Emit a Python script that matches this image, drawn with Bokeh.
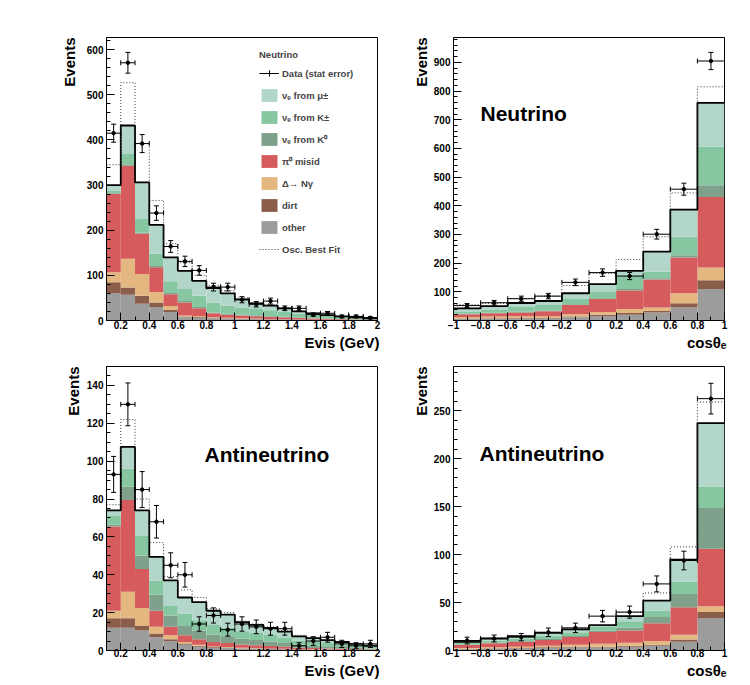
import numpy as np
from bokeh.plotting import figure
from bokeh.models import (ColumnDataSource, FixedTicker, Label, Legend, LegendItem,
                          Whisker, TeeHead, Range1d, Title)
from bokeh.layouts import column, row
from bokeh.embed import file_html
from bokeh.resources import INLINE

FONT = "Liberation Sans"

# ---------------- bins & ticks ----------------
EVIS_EDGES = [0.1, 0.2, 0.3, 0.4, 0.5, 0.6, 0.7, 0.8, 0.9, 1.0, 1.1, 1.2, 1.3, 1.4,
              1.5, 1.6, 1.7, 1.8, 1.9, 2.0]
COS_EDGES = [-1.0, -0.8, -0.6, -0.4, -0.2, 0.0, 0.2, 0.4, 0.6, 0.8, 1.0]

EVIS_TICKS = [0.2, 0.4, 0.6, 0.8, 1.0, 1.2, 1.4, 1.6, 1.8, 2.0]
EVIS_TICK_LABELS = ["0.2", "0.4", "0.6", "0.8", "1", "1.2", "1.4", "1.6", "1.8", "2"]
COS_TICKS = [-1.0, -0.8, -0.6, -0.4, -0.2, 0.0, 0.2, 0.4, 0.6, 0.8, 1.0]
COS_TICK_LABELS = ["\u22121", "\u22120.8", "\u22120.6", "\u22120.4", "\u22120.2", "0",
                   "0.2", "0.4", "0.6", "0.8", "1"]

NU_EVIS_YTICKS = [0, 100, 200, 300, 400, 500, 600]
NU_COS_YTICKS = [100, 200, 300, 400, 500, 600, 700, 800, 900]
NB_EVIS_YTICKS = [0, 20, 40, 60, 80, 100, 120, 140]
NB_COS_YTICKS = [0, 50, 100, 150, 200, 250]

# component order: bottom -> top
COMP_LABELS = ["other", "dirt", "\u0394\u2192 N\u03b3", "\u03c0\u2070 misid",
               "\u03bd\u2091 from K\u2070", "\u03bd\u2091 from K\u00b1", "\u03bd\u2091 from \u03bc\u00b1"]
COMP_COLORS = ["#9c9c9c", "#8b5e4b", "#e3b77f", "#d65b5d", "#7fa08a", "#86c7a2", "#b3d6ca"]

# ---------------- Neutrino, Evis ----------------
nu_evis_other = [60, 57, 37, 30, 19, 7, 6, 5, 4, 3, 3, 2, 2, 1.5, 1.2, 1, 0.8, 0.6, 0.5]
nu_evis_dirt = [25, 16, 18, 10, 5, 2, 2, 1, 1, 1, 1, 0.5, 0.5, 0.5, 0.3, 0.3, 0.2, 0.2, 0.1]
nu_evis_delta = [22, 64, 48, 23, 8, 2, 2, 1, 1, 1, 0.5, 0.5, 0.5, 0.3, 0.2, 0.2, 0.1, 0.1, 0.1]
nu_evis_pi0 = [173, 206, 89, 55, 26, 29, 17, 9, 7, 6, 5, 4.5, 4, 3, 2.5, 2, 1.5, 1.2, 1]
nu_evis_k0 = [2, 3, 3, 3, 3, 3, 3, 2, 2, 2, 2, 2, 1.5, 1.2, 1, 0.8, 0.6, 0.5, 0.4]
nu_evis_kpm = [5, 23, 30, 27, 26, 27, 25, 22, 18, 16, 14, 13, 11, 9, 7.5, 6, 4.5, 3.5, 2.5]
nu_evis_mu = [13, 63, 81, 64, 53, 40, 33, 32, 27, 18, 12.5, 10.5, 7.5, 4.5, 3.3, 1.7, 1.3, 0.9, 0.4]
nu_evis_data = [415, 571, 392, 238, 164, 131, 111, 74, 74, 46, 36, 43, 27, 27, 13, 16, 9, 9, 6]
nu_evis_err = [20, 23, 20, 16, 13, 11.5, 10.5, 8.6, 8.6, 6.8, 6, 6.6, 5.2, 5.2, 3.6, 4, 3, 3, 2.4]
nu_evis_fit = [345, 527, 392, 266, 170, 128, 100, 78, 66, 50, 40, 35, 28, 21, 17, 12.5, 9.5, 7.3, 5.2]

# ---------------- Neutrino, cos theta ----------------
nu_cos_other = [5, 6, 7, 7, 11, 16, 20, 28, 45, 110]
nu_cos_dirt = [2, 2, 2, 2, 3, 4, 6, 5, 15, 30]
nu_cos_delta = [5, 6, 6, 6, 8, 10, 14, 12, 35, 45]
nu_cos_pi0 = [10, 11, 13, 17, 32, 45, 65, 98, 125, 246]
nu_cos_k0 = [2, 2, 3, 3, 3, 3, 5, 4, 8, 41]
nu_cos_kpm = [6, 10, 16, 19, 18, 24, 45, 23, 64, 134]
nu_cos_mu = [12, 13, 14, 14, 20, 25, 18, 70, 95, 153]
nu_cos_data = [52, 62, 76, 85, 133, 167, 155, 301, 458, 905]
nu_cos_err = [7, 8, 9, 9.5, 11.5, 13, 12.5, 17, 21, 30]
nu_cos_fit = [55, 60, 77, 85, 122, 165, 213, 292, 445, 815]

# ---------------- Antineutrino, Evis ----------------
nb_evis_other = [12, 12, 10.5, 7, 5, 3, 2, 1.5, 1.3, 1, 1, 0.8, 0.7, 0.5, 0.4, 0.4, 0.3, 0.2, 0.2]
nb_evis_dirt = [5, 5, 2.5, 2, 1, 0.7, 0.5, 0.3, 0.3, 0.2, 0.2, 0.2, 0.1, 0.1, 0.1, 0.1, 0.1, 0, 0]
nb_evis_delta = [4, 14, 9.5, 3.5, 2, 0.8, 0.5, 0.3, 0.2, 0.2, 0.1, 0.1, 0.1, 0.1, 0.1, 0, 0, 0, 0]
nb_evis_pi0 = [44.5, 48.5, 20.5, 8.5, 4.5, 3.5, 3, 2.4, 2.2, 1.8, 1.5, 1.3, 1.1, 0.8, 0.7, 0.6, 0.5, 0.4, 0.3]
nb_evis_k0 = [1, 7, 7, 8.5, 6, 5, 4.5, 4, 3.5, 3, 2.7, 2.4, 2, 1.5, 1.3, 1.1, 0.9, 0.7, 0.5]
nb_evis_kpm = [4.5, 9.5, 10.5, 7.5, 5, 6.5, 5.5, 5, 4.5, 4, 3.7, 3.4, 3, 2.3, 2, 1.7, 1.4, 1.1, 0.8]
nb_evis_mu = [3, 11.5, 13.5, 12.5, 13.5, 8.5, 9.5, 7.5, 7, 4.8, 4.3, 3.8, 3, 2.2, 1.9, 1.6, 1.3, 1.1, 0.7]
nb_evis_data = [93, 130, 85, 68, 45, 40, 14, 18.5, 11, 14, 12.5, 11.5, 11.5, 2.5, 5, 7, 3.5, 2.5, 3.5]
nb_evis_err = [9.5, 11.3, 9.5, 8.6, 6.6, 6.5, 3.8, 4, 3.4, 3.8, 3.6, 3.4, 3.4, 1.6, 2.3, 2.6, 1.9, 1.6, 1.9]
nb_evis_fit = [77, 122, 80, 57, 39, 32, 28, 22, 20, 15.5, 14, 12.5, 10.5, 8, 6.8, 5.7, 4.6, 3.6, 2.6]

# ---------------- Antineutrino, cos theta ----------------
nb_cos_other = [1.4, 1.8, 2, 2.5, 3, 3, 4, 5, 9, 34]
nb_cos_dirt = [0.5, 0.6, 0.7, 0.8, 1, 1, 1, 1, 2.5, 6]
nb_cos_delta = [0.8, 1.1, 1.3, 1.7, 2, 3, 3, 4, 5, 6]
nb_cos_pi0 = [3, 4, 5, 6, 8, 12.4, 12.8, 18.4, 28.5, 60]
nb_cos_k0 = [0.5, 0.7, 0.8, 1, 1, 1.5, 2.8, 6.4, 14, 42.6]
nb_cos_kpm = [1.6, 2.3, 2.8, 3.5, 4, 3.5, 7, 6.5, 13, 22.4]
nb_cos_mu = [1.2, 2, 2.4, 2.9, 3, 2, 5.2, 10.7, 22.8, 66]
nb_cos_data = [10.4, 12.5, 13.9, 19, 23.6, 35.8, 40, 69.4, 93.8, 262.5]
nb_cos_err = [3.5, 3.6, 3.8, 4.4, 4.9, 6, 6.3, 8.3, 9.7, 16]
nb_cos_fit = [9.5, 13, 15.5, 19, 23, 26, 40, 60, 108, 259]


def style_axis(ax, standoff):
    ax.major_tick_in = 8
    ax.major_tick_out = 0
    ax.minor_tick_in = 4
    ax.minor_tick_out = 0
    ax.major_tick_line_color = "black"
    ax.minor_tick_line_color = "black"
    ax.axis_line_color = "black"
    ax.major_label_text_font = FONT
    ax.major_label_text_font_style = "bold"
    ax.major_label_text_font_size = "10px"
    ax.major_label_text_color = "black"
    ax.major_label_standoff = standoff


def make_panel(edges, comps, data, err, fit, xr, yr, xticks, xlabels, xminor,
               yticks, yminor, width, height, borders, xtitle, ytitle_standoff,
               xlabel_standoff=0, tag=None, tag_pos=None, legend=False):
    bl, br, bt, bb = borders
    p = figure(width=width, height=height, x_range=Range1d(*xr), y_range=Range1d(*yr),
               output_backend="svg", toolbar_location=None,
               min_border_left=bl, min_border_right=br, min_border_top=bt, min_border_bottom=bb)
    p.xgrid.visible = False
    p.ygrid.visible = False
    p.outline_line_color = "black"
    p.outline_line_width = 1
    p.background_fill_color = "white"
    p.border_fill_color = "white"

    style_axis(p.xaxis[0], xlabel_standoff)
    style_axis(p.yaxis[0], 3)
    p.xaxis.ticker = FixedTicker(ticks=xticks, minor_ticks=xminor)
    p.xaxis.major_label_overrides = {t: lab for t, lab in zip(xticks, xlabels)}
    p.yaxis.ticker = FixedTicker(ticks=yticks, minor_ticks=yminor)

    e = np.array(edges, dtype=float)
    left, right = e[:-1], e[1:]
    cum = np.zeros(len(left))
    quads = []
    for vals, color in zip(comps, COMP_COLORS):
        top = cum + np.array(vals, dtype=float)
        src = ColumnDataSource(dict(left=left, right=right, bottom=cum.copy(), top=top))
        quads.append(p.quad(left="left", right="right", bottom="bottom", top="top",
                            source=src, fill_color=color, line_color=None))
        cum = top

    p.step(x=e, y=np.append(cum, cum[-1]), mode="after", line_color="black", line_width=1.8)
    fitv = np.array(fit, dtype=float)
    p.step(x=e, y=np.append(fitv, fitv[-1]), mode="after", line_color="#333333",
           line_width=1, line_dash="1 2")

    xc = (left + right) / 2
    d = np.array(data, dtype=float)
    er = np.array(err, dtype=float)
    dsrc = ColumnDataSource(dict(x=xc, y=d, lo=d - er, hi=d + er, xl=left, xr=right))
    p.add_layout(Whisker(base="x", lower="lo", upper="hi", dimension="height", source=dsrc,
                         line_color="black", line_width=1, level="overlay",
                         upper_head=TeeHead(size=5, line_color="black", line_width=1),
                         lower_head=TeeHead(size=5, line_color="black", line_width=1)))
    p.add_layout(Whisker(base="y", lower="xl", upper="xr", dimension="width", source=dsrc,
                         line_color="black", line_width=1, level="overlay",
                         upper_head=TeeHead(size=5, line_color="black", line_width=1),
                         lower_head=TeeHead(size=5, line_color="black", line_width=1)))
    p.scatter("x", "y", source=dsrc, size=3.5, color="black", level="overlay")

    # axis titles (ROOT style: aligned to the far end of each axis)
    p.add_layout(Title(text="Events", align="right", text_font=FONT, text_font_style="bold",
                       text_font_size="15px", text_color="black", standoff=ytitle_standoff,
                       offset=0), "left")
    p.add_layout(Title(text=xtitle, align="right", text_font=FONT, text_font_style="bold",
                       text_font_size="15px", text_color="black", standoff=0,
                       offset=-2), "below")
    if tag:
        p.add_layout(Label(x=tag_pos[0], y=tag_pos[1], x_units="screen", y_units="screen",
                           text=tag, text_align="left", text_baseline="middle",
                           text_font=FONT, text_font_style="bold", text_font_size="21px",
                           text_color="black"))
    if legend:
        r_line = p.line(x=[np.nan], y=[np.nan], line_color="black", line_width=1)
        r_cross = p.scatter(x=[np.nan], y=[np.nan], marker="cross", line_color="black",
                            line_width=1)
        r_fit = p.line(x=[np.nan], y=[np.nan], line_color="#333333", line_width=1,
                       line_dash="1 2")
        items = [LegendItem(label="Data (stat error)", renderers=[r_line, r_cross])]
        for lab, r in reversed(list(zip(COMP_LABELS, quads))):
            items.append(LegendItem(label=lab, renderers=[r]))
        items.append(LegendItem(label="Osc. Best Fit", renderers=[r_fit]))
        leg = Legend(items=items, location=(153, 63), title="Neutrino",
                     glyph_width=20, glyph_height=16, label_height=16, spacing=6,
                     padding=0, margin=0, label_standoff=3, title_standoff=5,
                     label_text_font=FONT, label_text_font_style="bold",
                     label_text_font_size="9.5px", title_text_font=FONT,
                     title_text_font_style="bold", title_text_font_size="9.5px",
                     border_line_color=None, background_fill_alpha=0)
        p.add_layout(leg)
    return p


evis_minor = list(np.round(np.arange(0.1, 2.001, 0.1), 3))
cos_minor = list(np.round(np.arange(-1.0, 1.001, 0.1), 3))
COS_TITLE = "cos\u03b8\u2091"

p1 = make_panel(EVIS_EDGES,
                [nu_evis_other, nu_evis_dirt, nu_evis_delta, nu_evis_pi0, nu_evis_k0,
                 nu_evis_kpm, nu_evis_mu],
                nu_evis_data, nu_evis_err, nu_evis_fit, (0.1, 2.0), (0, 627),
                EVIS_TICKS, EVIS_TICK_LABELS, evis_minor,
                NU_EVIS_YTICKS, list(range(0, 627, 20)),
                388, 355, (106, 11, 37, 35), "Evis (GeV)", 11, legend=True)
p2 = make_panel(COS_EDGES,
                [nu_cos_other, nu_cos_dirt, nu_cos_delta, nu_cos_pi0, nu_cos_k0,
                 nu_cos_kpm, nu_cos_mu],
                nu_cos_data, nu_cos_err, nu_cos_fit, (-1.0, 1.0), (0, 987),
                COS_TICKS, COS_TICK_LABELS, cos_minor,
                NU_COS_YTICKS, list(range(0, 987, 20)),
                354, 355, (65, 18, 37, 35), COS_TITLE, 2, tag="Neutrino", tag_pos=(27, 207))
p3 = make_panel(EVIS_EDGES,
                [nb_evis_other, nb_evis_dirt, nb_evis_delta, nb_evis_pi0, nb_evis_k0,
                 nb_evis_kpm, nb_evis_mu],
                nb_evis_data, nb_evis_err, nb_evis_fit, (0.1, 2.0), (0, 150),
                EVIS_TICKS, EVIS_TICK_LABELS, evis_minor,
                NB_EVIS_YTICKS, list(range(0, 151, 5)),
                388, 328, (106, 11, 10, 33), "Evis (GeV)", 4, xlabel_standoff=-2,
                tag="Antineutrino", tag_pos=(98, 196))
p4 = make_panel(COS_EDGES,
                [nb_cos_other, nb_cos_dirt, nb_cos_delta, nb_cos_pi0, nb_cos_k0,
                 nb_cos_kpm, nb_cos_mu],
                nb_cos_data, nb_cos_err, nb_cos_fit, (-1.0, 1.0), (0, 296),
                COS_TICKS, COS_TICK_LABELS, cos_minor,
                NB_COS_YTICKS, list(range(0, 296, 10)),
                354, 328, (65, 18, 11, 33), COS_TITLE, 2, xlabel_standoff=-2,
                tag="Antineutrino", tag_pos=(26, 197))

layout = column(row(p1, p2), row(p3, p4))
open("out.html", "w").write(file_html(layout, INLINE))
